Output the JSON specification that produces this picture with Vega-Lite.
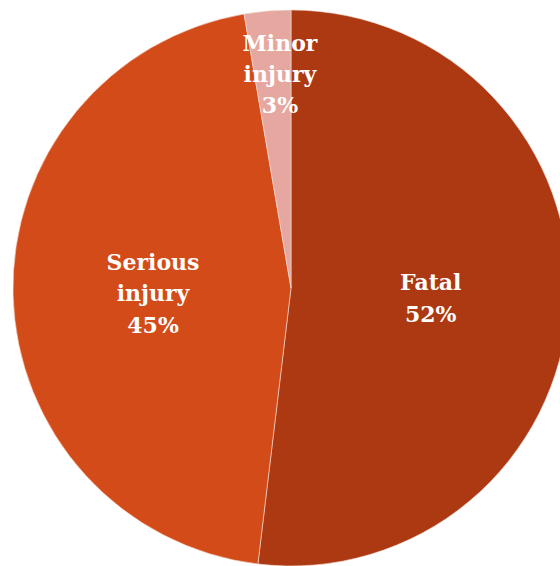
{
  "$schema": "https://vega.github.io/schema/vega-lite/v6.json",
  "width": 560,
  "height": 566,
  "autosize": {"type": "none"},
  "padding": 0,
  "background": "white",
  "view": {"stroke": null},
  "data": {
    "values": [
      {"category": "Fatal", "share": 51.9, "order": 1, "label": "Fatal\n52%"},
      {"category": "Serious injury", "share": 45.4, "order": 2, "label": "Serious\ninjury\n45%"},
      {"category": "Minor injury", "share": 2.7, "order": 3, "label": "Minor\ninjury\n3%"}
    ]
  },
  "encoding": {
    "theta": {"field": "share", "type": "quantitative", "stack": true},
    "order": {"field": "order", "type": "quantitative"},
    "color": {
      "field": "category",
      "type": "nominal",
      "scale": {"domain": ["Fatal", "Serious injury", "Minor injury"], "range": ["#AD3912", "#D34B18", "#E5A79F"]},
      "legend": null
    }
  },
  "layer": [
    {"mark": {"type": "arc", "outerRadius": 278, "xOffset": 11, "yOffset": 5, "stroke": "#f4e0d8", "strokeWidth": 0.6}},
    {
      "mark": {"type": "text", "radius": 140, "xOffset": 11, "yOffset": -8, "lineBreak": "\n", "lineHeight": 32, "font": "DejaVu Serif", "fontWeight": "bold", "fontSize": 22, "align": "center", "baseline": "middle"},
      "encoding": {
        "text": {"condition": {"test": "datum.order == 1", "field": "label"}, "value": ""},
        "color": {"value": "white"}
      }
    },
    {
      "mark": {"type": "text", "radius": 140, "xOffset": 13, "yOffset": -24, "lineBreak": "\n", "lineHeight": 31.5, "font": "DejaVu Serif", "fontWeight": "bold", "fontSize": 22, "align": "center", "baseline": "middle"},
      "encoding": {
        "text": {"condition": {"test": "datum.order == 2", "field": "label"}, "value": ""},
        "color": {"value": "white"}
      }
    },
    {
      "mark": {"type": "text", "radius": 213, "xOffset": 18, "yOffset": -27, "lineBreak": "\n", "lineHeight": 31, "font": "DejaVu Serif", "fontWeight": "bold", "fontSize": 22, "align": "center", "baseline": "middle"},
      "encoding": {
        "text": {"condition": {"test": "datum.order == 3", "field": "label"}, "value": ""},
        "color": {"value": "white"}
      }
    }
  ]
}
